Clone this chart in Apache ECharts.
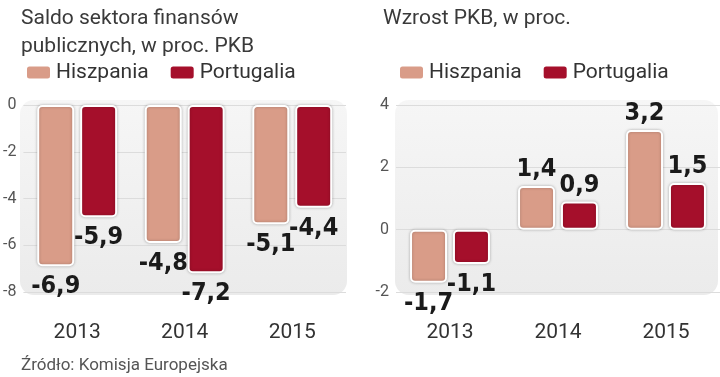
<!DOCTYPE html>
<html>
<head>
<meta charset="utf-8">
<script src="https://cdn.jsdelivr.net/npm/echarts@6/dist/echarts.min.js"></script>
<style>
    html, body { margin: 0; padding: 0; background: #fff; }
    #chart { width: 720px; height: 377px; }
</style>
</head>
<body>
<div id="chart"></div>
<script>
// 数据
var years = ['2013', '2014', '2015'];
var seriesNames = ['Hiszpania', 'Portugalia'];

// saldo sektora finansów publicznych (bar heights as drawn in the source graphic)
var saldoHiszpania = [-6.9, -5.9, -5.1];
var saldoPortugalia = [-4.8, -7.2, -4.4];
// printed labels (source swaps -5,9 / -4,8 against the bar lengths)
var saldoLabelsHiszpania = ['-6,9', '-4,8', '-5,1'];
var saldoLabelsPortugalia = ['-5,9', '-7,2', '-4,4'];

// wzrost PKB
var pkbHiszpania = [-1.7, 1.4, 3.2];
var pkbPortugalia = [-1.1, 0.9, 1.5];

var saldoTicks = { min: -8, max: 0, interval: 2 };
var pkbTicks = { min: -2, max: 4, interval: 2 };

var colors = ['#d99c88', '#a50f2b'];
var textFont = 'Roboto';
var numFont = '"DejaVu Sans Condensed", Roboto';

(function() {
    var box = document.getElementById('chart');
    var myChart = echarts.init(box, null, { renderer: 'canvas' });

    var fmt = function(v) {
        return String(v).replace('.', ',');
    };

    var barItem = function(color) {
        return {
            color: color,
            borderColor: '#fff',
            borderWidth: 2,
            borderRadius: 4,
            shadowBlur: 3,
            shadowColor: 'rgba(0,0,0,0.25)'
        };
    };

    var makeBar = function(name, values, labels, idx, axisIdx) {
        return {
            name: name,
            type: 'bar',
            xAxisIndex: axisIdx,
            yAxisIndex: axisIdx,
            barWidth: 37,
            barGap: '16%',
            itemStyle: barItem(colors[idx]),
            label: {
                show: true,
                fontFamily: numFont,
                fontWeight: 'bold',
                fontSize: 25,
                lineHeight: 25,
                color: '#1a1a1a',
                formatter: function(p) {
                    return labels ? labels[p.dataIndex] : fmt(p.value);
                }
            },
            data: values.map(function(v) {
                return {
                    value: v,
                    label: v < 0 ? { position: 'bottom', distance: 8 } : { position: 'top', distance: 4 }
                };
            })
        };
    };

    var xAx = function(gi) {
        return {
            type: 'category',
            gridIndex: gi,
            data: years,
            axisLine: { show: false },
            axisTick: { show: false },
            axisLabel: {
                margin: 30,
                fontFamily: textFont,
                fontSize: 21,
                color: '#333'
            }
        };
    };

    var yAx = function(gi, t) {
        return {
            type: 'value',
            gridIndex: gi,
            min: t.min,
            max: t.max,
            interval: t.interval,
            axisLine: { show: false },
            axisTick: { show: false },
            splitLine: { lineStyle: { color: '#dcdcdc', width: 1 } },
            axisLabel: {
                margin: 7,
                fontFamily: textFont,
                fontSize: 16,
                color: '#555'
            }
        };
    };

    var bgFill = new echarts.graphic.LinearGradient(0, 0, 0, 1, [
        { offset: 0, color: '#f6f6f6' },
        { offset: 1, color: '#ebebeb' }
    ]);

    var legendCommon = {
        top: 57,
        itemWidth: 25,
        itemHeight: 14,
        itemGap: 20,
        icon: 'roundRect',
        data: seriesNames,
        textStyle: {
            fontFamily: textFont,
            fontSize: 21,
            color: '#333'
        }
    };

    var titleStyle = {
        fontFamily: textFont,
        fontWeight: 'normal',
        fontSize: 21,
        lineHeight: 28,
        color: '#3a3a3a'
    };

    var option = {
        animation: false,
        color: colors,
        title: [{
            text: 'Saldo sektora finansów\npublicznych, w proc. PKB',
            left: 16,
            top: 0,
            textStyle: titleStyle
        }, {
            text: 'Wzrost PKB, w proc.',
            left: 378,
            top: 0,
            textStyle: titleStyle
        }, {
            text: 'Źródło: Komisja Europejska',
            left: 16,
            top: 352,
            textStyle: {
                fontFamily: textFont,
                fontWeight: 'normal',
                fontSize: 17,
                color: '#555'
            }
        }],
        legend: [
            Object.assign({ left: 20 }, legendCommon),
            Object.assign({ left: 393 }, legendCommon)
        ],
        grid: [
            { left: 21, top: 105, width: 325, height: 187 },
            { left: 396, top: 105, width: 324, height: 187 }
        ],
        graphic: [{
            type: 'rect',
            z: -10,
            shape: { x: 20, y: 100, width: 327, height: 195, r: 14 },
            style: { fill: bgFill }
        }, {
            type: 'rect',
            z: -10,
            shape: { x: 395, y: 100, width: 323, height: 195, r: 14 },
            style: { fill: bgFill }
        }],
        xAxis: [xAx(0), xAx(1)],
        yAxis: [yAx(0, saldoTicks), yAx(1, pkbTicks)],
        series: [
            makeBar(seriesNames[0], saldoHiszpania, saldoLabelsHiszpania, 0, 0),
            makeBar(seriesNames[1], saldoPortugalia, saldoLabelsPortugalia, 1, 0),
            makeBar(seriesNames[0], pkbHiszpania, null, 0, 1),
            makeBar(seriesNames[1], pkbPortugalia, null, 1, 1)
        ]
    };

    myChart.setOption(option);
})();
</script>
</body>
</html>
